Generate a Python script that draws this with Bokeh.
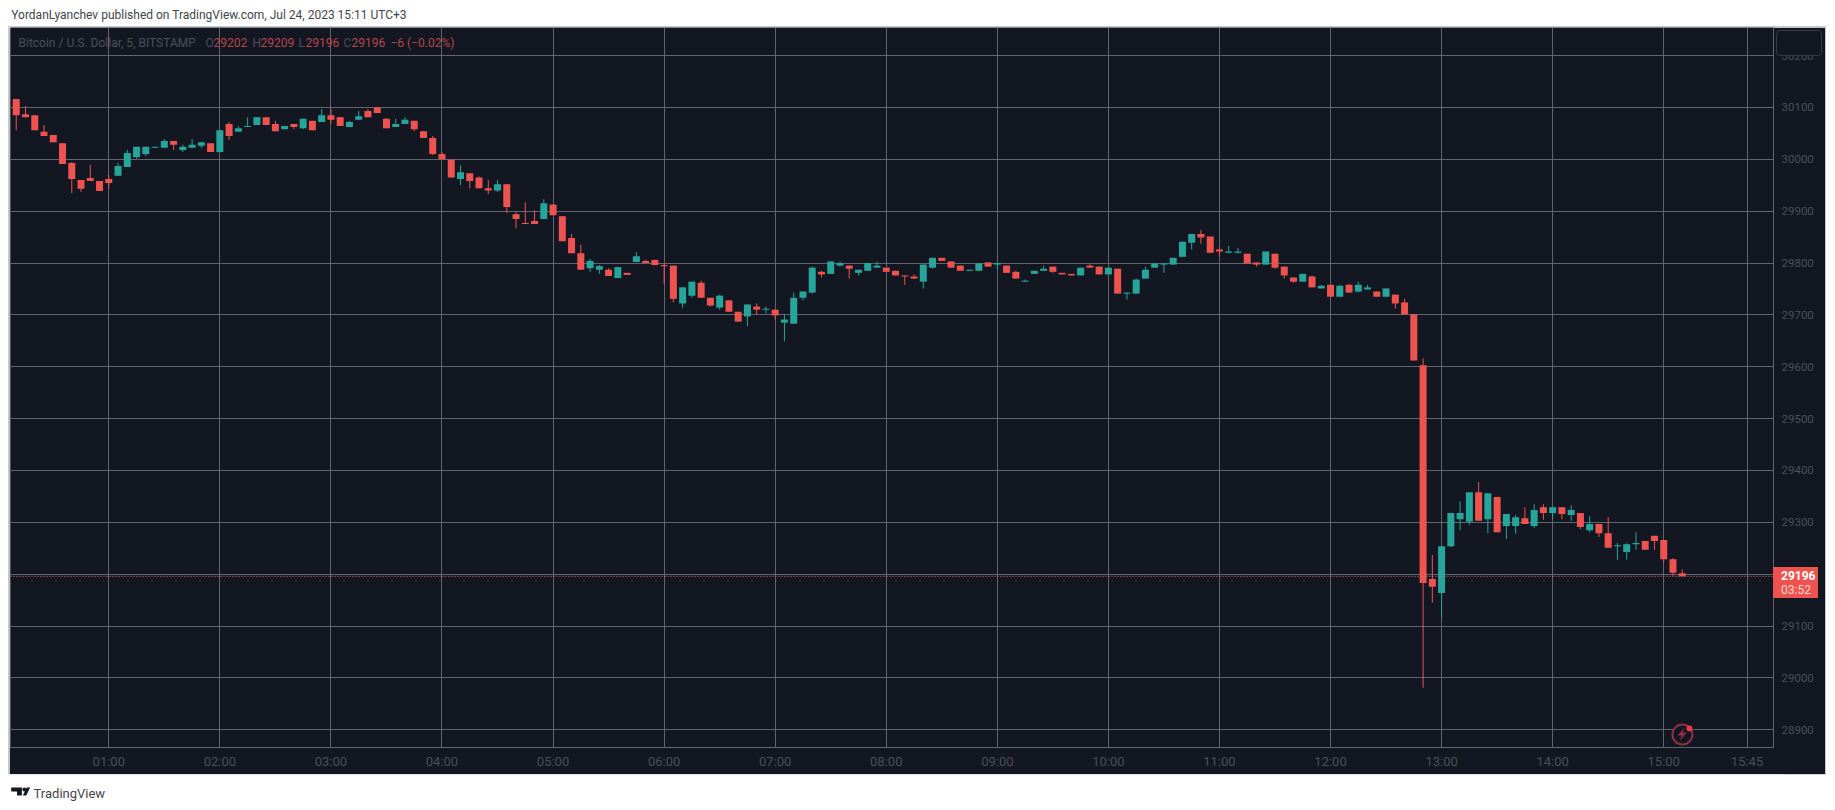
from bokeh.core.properties import value
from bokeh.embed import file_html
from bokeh.layouts import column
from bokeh.models import BoxAnnotation, Div, FixedTicker, Label, PolyAnnotation, Range1d, Span
from bokeh.plotting import figure
from bokeh.resources import INLINE

# 5 minute candles, 00:10 to 15:10
opens = [30116,30087,30085,30053,30047,30031,29993,29960,29964,29958,
         29962,29968,29985,30004,30010,30022,30022,30035,30018,30022,
         30026,30031,30014,30068,30053,30062,30066,30081,30068,30058,
         30068,30060,30074,30072,30085,30081,30062,30076,30093,30100,
         30078,30062,30068,30074,30054,30041,30010,29999,29962,29973,
         29965,29944,29940,29952,29894,29877,29881,29885,29913,29890,
         29848,29819,29790,29787,29787,29771,29781,29802,29804,29806,
         29796,29795,29722,29737,29762,29733,29714,29728,29706,29697,
         29716,29710,29710,29685,29683,29733,29743,29783,29779,29795,
         29795,29781,29785,29791,29791,29785,29776,29774,29764,29791,
         29810,29803,29795,29785,29785,29801,29797,29795,29783,29764,
         29779,29785,29793,29781,29779,29776,29795,29793,29778,29789,
         29741,29741,29770,29791,29797,29797,29812,29839,29856,29851,
         29826,29820,29820,29818,29801,29797,29818,29793,29772,29764,
         29774,29751,29758,29735,29758,29745,29749,29745,29735,29739,
         29724,29701,29603,29191,29164,29254,29306,29301,29358,29306,
         29349,29293,29293,29308,29293,29329,29318,29329,29314,29318,
         29285,29297,29279,29254,29243,29258,29264,29274,29266,29229,29202]
highs = [30116,30103,30085,30066,30047,30031,29995,29960,29989,29958,
         29970,29993,30018,30024,30024,30024,30039,30035,30028,30039,
         30033,30031,30056,30072,30064,30081,30081,30081,30074,30064,
         30068,30078,30074,30097,30097,30081,30074,30093,30097,30100,
         30079,30078,30081,30074,30054,30045,30014,29999,29988,29973,
         29967,29960,29960,29952,29898,29917,29902,29923,29913,29890,
         29856,29835,29808,29796,29790,29792,29781,29821,29806,29806,
         29800,29795,29754,29764,29766,29733,29739,29728,29706,29720,
         29722,29716,29710,29701,29743,29745,29793,29785,29803,29803,
         29795,29787,29800,29803,29791,29785,29776,29778,29797,29810,
         29810,29803,29795,29787,29799,29801,29800,29795,29785,29768,
         29785,29795,29793,29781,29779,29791,29799,29793,29791,29789,
         29743,29770,29793,29799,29799,29810,29841,29856,29864,29851,
         29831,29833,29829,29818,29801,29822,29818,29793,29772,29779,
         29776,29758,29758,29758,29760,29764,29758,29745,29751,29739,
         29731,29701,29616,29237,29254,29318,29341,29358,29378,29356,
         29349,29316,29314,29329,29335,29335,29329,29329,29333,29318,
         29312,29297,29310,29260,29260,29281,29264,29274,29266,29231,29209]
lows = [30056,30081,30056,30045,30033,29991,29935,29937,29958,29939,
        29943,29968,29985,30001,30006,30022,30022,30018,30014,30022,
        30022,30014,30014,30037,30053,30062,30066,30066,30054,30058,
        30058,30058,30056,30072,30068,30064,30062,30076,30081,30089,
        30060,30062,30068,30054,30041,30008,30000,29965,29950,29944,
        29944,29933,29937,29896,29867,29875,29875,29885,29892,29842,
        29819,29787,29783,29779,29775,29771,29777,29802,29800,29796,
        29760,29724,29714,29733,29733,29716,29710,29706,29687,29678,
        29701,29703,29691,29649,29683,29728,29741,29772,29779,29793,
        29770,29776,29785,29791,29783,29776,29758,29770,29751,29789,
        29804,29791,29785,29785,29785,29793,29787,29781,29770,29764,
        29779,29785,29781,29778,29776,29776,29791,29778,29778,29741,
        29729,29741,29770,29791,29781,29797,29812,29826,29837,29820,
        29812,29820,29818,29799,29793,29797,29789,29770,29762,29764,
        29753,29751,29735,29735,29743,29743,29749,29735,29735,29712,
        29701,29612,28981,29145,29116,29252,29285,29295,29303,29279,
        29281,29268,29278,29297,29289,29305,29306,29306,29303,29287,
        29281,29272,29251,29228,29228,29247,29247,29247,29224,29197,29196]
closes = [30085,30081,30056,30045,30033,29991,29962,29943,29958,29939,
          29954,29987,30012,30024,30024,30024,30035,30028,30024,30028,
          30033,30014,30056,30045,30060,30064,30081,30066,30054,30064,
          30062,30078,30056,30085,30076,30064,30072,30083,30081,30089,
          30060,30068,30076,30058,30041,30010,30000,29965,29975,29958,
          29944,29940,29952,29908,29885,29875,29875,29915,29892,29842,
          29819,29787,29804,29794,29775,29792,29777,29813,29800,29796,
          29794,29731,29753,29764,29733,29718,29737,29706,29687,29720,
          29710,29712,29699,29691,29733,29745,29791,29778,29803,29800,
          29789,29787,29800,29795,29783,29776,29774,29770,29797,29810,
          29804,29791,29785,29787,29799,29793,29800,29781,29770,29766,
          29785,29789,29783,29778,29776,29791,29791,29778,29791,29741,
          29743,29768,29787,29799,29799,29810,29841,29856,29849,29820,
          29822,29822,29822,29799,29797,29822,29791,29776,29764,29779,
          29753,29756,29735,29756,29743,29758,29753,29735,29751,29722,
          29701,29612,29183,29176,29254,29318,29318,29358,29303,29356,
          29281,29316,29310,29297,29324,29318,29329,29316,29324,29291,
          29297,29279,29251,29256,29258,29260,29247,29264,29229,29203,29196]
minutes = [10 + 5 * i for i in range(len(opens))]

time_ticks = [60, 120, 180, 240, 300, 360, 420, 480, 540, 600, 660, 720, 780, 840, 900, 945]
time_labels = ["01:00", "02:00", "03:00", "04:00", "05:00", "06:00", "07:00", "08:00",
               "09:00", "10:00", "11:00", "12:00", "13:00", "14:00", "15:00", "15:45"]
price_ticks = [28900, 29000, 29100, 29200, 29300, 29400, 29500, 29600, 29700, 29800,
               29900, 30000, 30100, 30200]
last_price = 29196

DARK = "#131722"
GRID = "#62646e"
RED = "#ef5350"
GREEN = "#26a69a"
DIM = "#4c4e58"
LEG = "#b8454d"
FONT = "Roboto"

# page pixels: dark panel and the frame inside it
PANEL_L, PANEL_T, PANEL_R, PANEL_B = 9, 27, 1825, 774
LEFT, TOP, RIGHT, BOTTOM = 10, 27, 1773, 747


def flat_figure(w, h, **kw):
    # no axes, one data unit is one pixel
    f = figure(width=w, height=h, x_range=Range1d(0, w), y_range=Range1d(h, 0),
               x_axis_location=None, y_axis_location=None, min_border=0,
               toolbar_location=None, output_backend="svg", **kw)
    f.grid.visible = False
    f.outline_line_color = None
    return f


def px_text(f, x, y, text, color, size):
    f.text([x], [y], text=[text], text_color=color, text_font=value(FONT), text_font_size=size,
           text_baseline="middle")


p = figure(width=PANEL_R - PANEL_L, height=PANEL_B - PANEL_T, output_backend="svg",
           toolbar_location=None, y_axis_location="right",
           x_range=Range1d(6.9, 959.3), y_range=Range1d(28866, 30254),
           min_border_left=LEFT - PANEL_L, min_border_top=0,
           min_border_right=PANEL_R - RIGHT, min_border_bottom=PANEL_B - BOTTOM,
           margin=(0, 0, 0, PANEL_L), styles={"outline": "1px solid #c5c8d0"})
p.background_fill_color = DARK
p.border_fill_color = DARK
p.outline_line_color = None

p.xgrid.ticker = FixedTicker(ticks=time_ticks)
p.ygrid.ticker = FixedTicker(ticks=price_ticks)
p.xgrid.grid_line_color = GRID
p.ygrid.grid_line_color = GRID

p.xaxis.ticker = FixedTicker(ticks=time_ticks)
p.xaxis.major_label_overrides = dict(zip(time_ticks, time_labels))
p.yaxis.ticker = FixedTicker(ticks=price_ticks)
for ax in (p.xaxis[0], p.yaxis[0]):
    ax.axis_line_color = GRID
    ax.major_tick_line_color = None
    ax.minor_tick_line_color = None
    ax.major_tick_out = 0
    ax.major_tick_in = 0
    ax.minor_tick_out = 0
    ax.major_label_text_color = DIM
    ax.major_label_text_font = FONT
p.xaxis.major_label_text_font_size = "13px"
p.yaxis.major_label_text_font_size = "11.5px"
p.xaxis.major_label_standoff = 6
p.yaxis.major_label_standoff = 8

# separators running on through the axis corner
for left, top, right, bottom, side in [(RIGHT, BOTTOM, RIGHT + 1, PANEL_B, "below"),
                                       (RIGHT, BOTTOM, PANEL_R, BOTTOM + 1, "right")]:
    p.add_layout(BoxAnnotation(left=left - PANEL_L, right=right - PANEL_L,
                               top=top - PANEL_T, bottom=bottom - PANEL_T,
                               left_units="canvas", right_units="canvas",
                               top_units="canvas", bottom_units="canvas",
                               fill_color=GRID, fill_alpha=1, line_color=None), side)

up = [i for i in range(len(opens)) if closes[i] >= opens[i]]
down = [i for i in range(len(opens)) if closes[i] < opens[i]]
for idx, color in ((up, GREEN), (down, RED)):
    xs = [minutes[i] for i in idx]
    p.segment(xs, [lows[i] for i in idx], xs, [highs[i] for i in idx], color=color, line_width=1)
    p.vbar(x=xs, width=3.78, bottom=[min(opens[i], closes[i]) for i in idx],
           top=[max(opens[i], closes[i]) for i in idx], fill_color=color, line_color=None)

p.add_layout(Span(location=last_price, dimension="width", line_color="#f27a78", line_width=1,
                  line_dash="1 2"))


def add_label(x, y, text, color=DIM):
    p.add_layout(Label(x=x - LEFT, y=BOTTOM - y, x_units="screen", y_units="screen", text=text,
                       text_color=color, text_font=FONT, text_font_size="12px",
                       text_baseline="middle"))


# legend line
add_label(18, 42, "Bitcoin / U.S. Dollar, 5, BITSTAMP")
for x, t, c in [(205, "O", DIM), (213, "29202", LEG), (252, "H", DIM), (260, "29209", LEG),
                (298, "L", DIM), (305, "29196", LEG), (343, "C", DIM), (351, "29196", LEG),
                (390, "\u22126 (\u22120.02%)", LEG)]:
    add_label(x, 42, t, c)

# alert icon at the bottom of the frame
icon_x = 60 + (1682 - 108.3) / 1.8512
icon_y = 28900 - (734 - 729.4) / 0.5187
p.scatter([icon_x], [icon_y], size=20, marker="circle", fill_color=DARK, line_color="#8c2f47",
          line_width=2)
bolt_x = [1684, 1677, 1681, 1679, 1686, 1682]
bolt_y = [727, 735, 735, 741, 732, 732]
p.add_layout(PolyAnnotation(xs=[x - PANEL_L for x in bolt_x], ys=[y - PANEL_T for y in bolt_y],
                            xs_units="canvas", ys_units="canvas",
                            fill_color="#8c2f47", fill_alpha=1, line_color=None))
dot_x = 60 + (1689 - 108.3) / 1.8512
dot_y = 28900 - (728 - 729.4) / 0.5187
p.scatter([dot_x], [dot_y], size=6, marker="circle", fill_color="#f23645", line_color=None)

# header and footer strips
head = flat_figure(1835, PANEL_T)
px_text(head, 10, 14, "YordanLyanchev published on TradingView.com, Jul 24, 2023 15:11 UTC+3",
        "#43454c", "12px")

foot = flat_figure(1835, 30)
px_text(foot, 33, 19, "TradingView", "#43454c", "13px")
foot.patch([10, 21, 21, 16, 16, 10], [13, 13, 21, 21, 17, 17], color="#131722", line_color=None)
foot.patch([26, 29.5, 25.5, 22], [13, 13, 21, 21], color="#131722", line_color=None)
foot.scatter([23.5], [15], size=4, marker="circle", color="#131722", line_color=None)

# price tag and empty button sit on top of the price axis
tag = Div(text="<b style='color:white'>%d</b><br>03:52" % last_price, width=45, height=31, margin=0,
          styles={"position": "absolute", "left": "1773px", "top": "567px", "background": RED,
                  "color": "#f7d4d3", "font-family": FONT, "font-size": "12px",
                  "line-height": "14px", "padding": "2px 0 0 8px", "box-sizing": "border-box"})
button = Div(text="", width=46, height=26, margin=0,
             styles={"position": "absolute", "left": "1776px", "top": "30px", "background": DARK,
                     "border": "1px solid #363a45", "border-radius": "4px",
                     "box-sizing": "border-box"})

layout = column(head, p, foot, tag, button, spacing=0)
open("out.html", "w").write(file_html(layout, INLINE))
